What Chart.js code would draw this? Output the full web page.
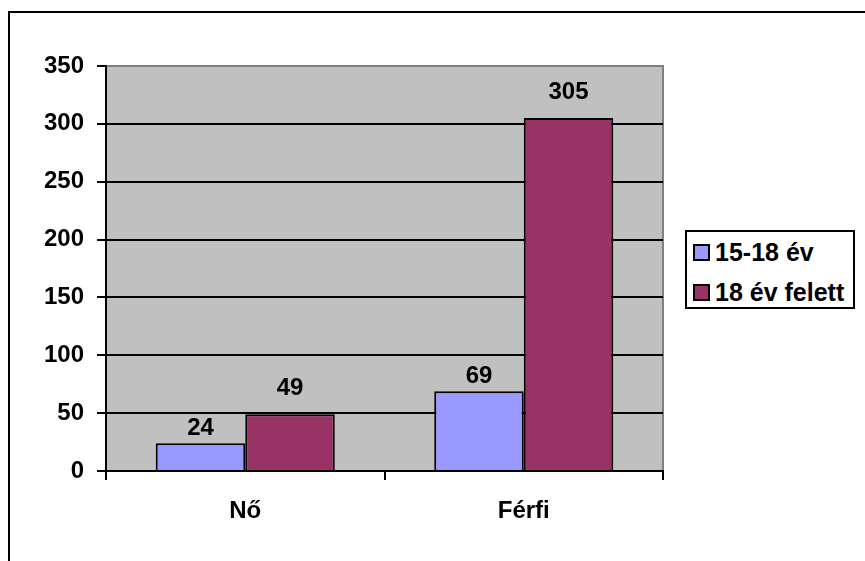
<!DOCTYPE html>
<html>
<head>
<meta charset="utf-8">
<script src="https://cdn.jsdelivr.net/npm/chart.js@4/dist/chart.umd.min.js"></script>
<style>
  html, body { margin: 0; padding: 0; background: #fff; overflow: hidden; }
  #wrap { position: relative; width: 865px; height: 561px; }
  #frame {
    position: absolute; left: 8px; top: 11px; width: 900px; height: 600px;
    border: 2px solid #000; box-sizing: border-box;
  }
  #chart { position: absolute; left: 0; top: 0; }
  #legend {
    position: absolute; left: 685px; top: 230px; width: 170px; height: 79px;
    border: 2px solid #000; box-sizing: border-box; background: #fff;
    font: bold 25px "Liberation Sans", Arial, sans-serif; color: #000;
  }
  #legend .item { position: absolute; left: 6px; height: 28px; line-height: 28px; white-space: nowrap; }
  #legend .box {
    display: inline-block; width: 17px; height: 17px; border: 2px solid #000;
    box-sizing: border-box; vertical-align: middle; margin-right: 5px; position: relative; top: -2px;
  }
</style>
</head>
<body>
<div id="wrap">
  <div id="frame"></div>
  <canvas id="chart" width="865" height="561"></canvas>
  <div id="legend"></div>
</div>
<script>
const categories = ["Nő", "Férfi"];
const seriesNames = ["15-18 év", "18 év felett"];
const youth = [24, 69];
const adults = [49, 305];
const yTicks = [0, 50, 100, 150, 200, 250, 300, 350];

const colors = ["#9999FF", "#993366"];
const font = { family: "'Liberation Sans', Arial, sans-serif", size: 24, weight: "bold" };

const plotBackground = {
  id: "plotBackground",
  beforeDraw(chart) {
    const { ctx, chartArea: a } = chart;
    ctx.save();
    ctx.fillStyle = "#C0C0C0";
    ctx.fillRect(a.left, a.top, a.right - a.left, a.bottom - a.top);
    ctx.strokeStyle = "#808080";
    ctx.lineWidth = 2;
    ctx.strokeRect(a.left, a.top, a.right - a.left, a.bottom - a.top);
    ctx.restore();
  }
};

const valueLabels = {
  id: "valueLabels",
  afterDatasetsDraw(chart) {
    const ctx = chart.ctx;
    ctx.save();
    ctx.font = "bold 24px 'Liberation Sans', Arial, sans-serif";
    ctx.fillStyle = "#000";
    ctx.textAlign = "center";
    ctx.textBaseline = "alphabetic";
    chart.data.datasets.forEach((ds, i) => {
      chart.getDatasetMeta(i).data.forEach((bar, j) => {
        ctx.fillText(ds.data[j], bar.x, bar.y - ds.labelGap);
      });
    });
    ctx.restore();
  }
};

const chart = new Chart(document.getElementById("chart"), {
  type: "bar",
  data: {
    labels: categories,
    datasets: [
      {
        label: seriesNames[0],
        data: youth,
        backgroundColor: colors[0],
        borderColor: "#000",
        borderWidth: 2,
        labelGap: 8
      },
      {
        label: seriesNames[1],
        data: adults,
        backgroundColor: colors[1],
        borderColor: "#000",
        borderWidth: 2,
        labelGap: 19
      }
    ]
  },
  options: {
    responsive: false,
    animation: false,
    layout: { padding: { top: 66, right: 202, left: 0, bottom: 0 } },
    datasets: { bar: { categoryPercentage: 0.643, barPercentage: 1 } },
    scales: {
      x: {
        afterFit: (s) => { s.height = 90 },
        grid: { drawOnChartArea: false, color: "#000", lineWidth: 2, tickLength: 9 },
        border: { color: "#000", width: 2 },
        ticks: { color: "#000", font, padding: 17 }
      },
      y: {
        min: 0,
        max: 350,
        afterFit: (s) => { s.width = 106 },
        afterBuildTicks: (s) => { s.ticks = yTicks.map((v) => ({ value: v })) },
        grid: {
          color: (c) => (c.tick && c.tick.value === 350 ? "#808080" : "#000"),
          tickColor: "#000",
          lineWidth: 2,
          tickLength: 9
        },
        border: { color: "#000", width: 2 },
        ticks: { color: "#000", font, padding: 13 }
      }
    },
    plugins: {
      legend: { display: false },
      tooltip: { enabled: false }
    }
  },
  plugins: [plotBackground, valueLabels]
});

const legend = document.getElementById("legend");
chart.data.datasets.forEach((ds, i) => {
  const item = document.createElement("div");
  item.className = "item";
  item.style.top = (i === 0 ? 6 : 46) + "px";
  item.innerHTML = '<span class="box" style="background:' + ds.backgroundColor + '"></span>' + ds.label;
  legend.appendChild(item);
});
</script>
</body>
</html>
